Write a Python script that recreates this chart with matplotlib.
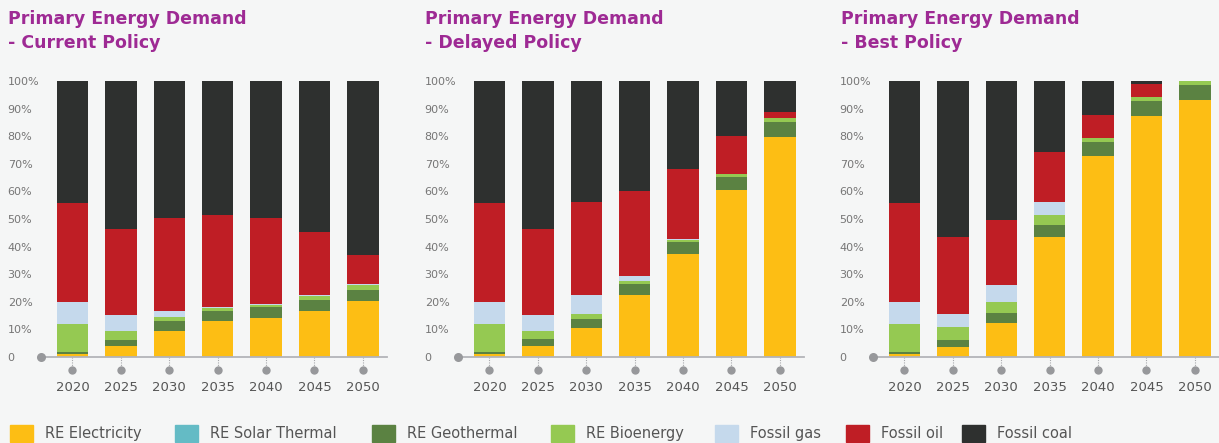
import numpy as np
import matplotlib.pyplot as plt
from matplotlib.patches import Rectangle

years = ['2020', '2025', '2030', '2035', '2040', '2045', '2050']
sources = ['RE Electricity', 'RE Solar Thermal', 'RE Geothermal', 'RE Bioenergy',
           'Fossil gas', 'Fossil oil', 'Fossil coal']
colors = ['#FDBE14', '#64BBC5', '#5B8242', '#95C952', '#C5D9EC', '#BF1E25', '#2E302F']

# shares in % per source (bottom to top)
cur_electricity = [1.1, 4.0, 9.5, 13.1, 14.2, 16.7, 20.4]
cur_solar = [0, 0, 0, 0, 0, 0, 0]
cur_geothermal = [0.7, 2.2, 3.6, 3.4, 4.0, 4.0, 4.0]
cur_bioenergy = [10.2, 3.3, 1.4, 1.3, 0.8, 1.5, 1.8]
cur_gas = [7.8, 5.8, 2.2, 0.2, 0.3, 0.1, 0.3]
cur_oil = [36.0, 31.1, 33.5, 33.6, 30.9, 22.9, 10.6]
cur_coal = [44.2, 53.6, 49.8, 48.4, 49.8, 54.8, 62.9]

del_electricity = [1.1, 4.1, 10.4, 22.5, 37.5, 60.4, 79.6]
del_solar = [0, 0, 0, 0, 0, 0, 0]
del_geothermal = [0.7, 2.4, 3.4, 4.0, 4.0, 4.7, 5.5]
del_bioenergy = [10.2, 3.0, 1.8, 1.1, 0.9, 1.1, 1.4]
del_gas = [7.8, 5.8, 6.9, 1.9, 0.5, 0.0, 0.0]
del_oil = [36.0, 31.2, 33.6, 30.7, 25.2, 14.0, 2.2]
del_coal = [44.2, 53.5, 43.9, 39.8, 31.9, 19.8, 11.3]

best_electricity = [1.1, 3.5, 12.4, 43.6, 73.0, 87.3, 93.1]
best_solar = [0, 0, 0, 0, 0, 0, 0]
best_geothermal = [0.7, 2.7, 3.6, 4.4, 4.8, 5.4, 5.4]
best_bioenergy = [10.2, 4.7, 4.0, 3.6, 1.5, 1.5, 1.5]
best_gas = [7.8, 4.7, 6.2, 4.4, 0.0, 0.0, 0.0]
best_oil = [36.0, 27.9, 23.3, 18.2, 8.3, 4.7, 0.0]
best_coal = [44.2, 56.5, 50.5, 25.8, 12.4, 1.1, 0.0]

titles = ['Primary Energy Demand\n- Current Policy',
          'Primary Energy Demand\n- Delayed Policy',
          'Primary Energy Demand\n- Best Policy']
scenarios = [
    [cur_electricity, cur_solar, cur_geothermal, cur_bioenergy, cur_gas, cur_oil, cur_coal],
    [del_electricity, del_solar, del_geothermal, del_bioenergy, del_gas, del_oil, del_coal],
    [best_electricity, best_solar, best_geothermal, best_bioenergy, best_gas, best_oil, best_coal],
]

bg = '#F5F6F6'
W, H = 1219, 443
fig = plt.figure(figsize=(W / 100, H / 100), dpi=100, facecolor=bg)

panel_left = [41, 458, 873]   # pixels
title_left = [8, 425, 841]
ax_w, ax_bottom, ax_h = 346, 443 - 357, 276

x = np.arange(len(years))
for i, data in enumerate(scenarios):
    ax = fig.add_axes([panel_left[i] / W, ax_bottom / H, ax_w / W, ax_h / H])
    ax.set_facecolor(bg)
    bottom = np.zeros(len(years))
    for vals, c in zip(data, colors):
        vals = np.array(vals, dtype=float)
        ax.bar(x, vals, bottom=bottom, width=0.65, color=c, linewidth=0, zorder=2)
        bottom += vals

    ax.set_xlim(-0.65, 6.5)
    ax.set_ylim(0, 100)
    for s in ['top', 'right', 'left']:
        ax.spines[s].set_visible(False)
    ax.spines['bottom'].set_color('#B3B4B8')
    ax.spines['bottom'].set_linewidth(1.3)

    ax.set_yticks(np.arange(0, 101, 10))
    ax.set_yticklabels(['0'] + [f'{v}%' for v in range(10, 101, 10)])
    ax.tick_params(axis='y', length=0, pad=24, labelsize=8, labelcolor='#767676')
    for lab in ax.get_yticklabels():
        lab.set_horizontalalignment('left')

    ax.set_xticks(x)
    ax.set_xticklabels([])
    ax.tick_params(axis='x', length=0)
    tr = ax.get_xaxis_transform()
    for xi, yr in zip(x, years):
        ax.plot([xi, xi], [0, -0.047], transform=tr, color='#A8A9AD', lw=0.8,
                ls=(0, (1, 1.2)), clip_on=False, zorder=1)
        ax.plot([xi], [-0.047], transform=tr, marker='o', ms=6, color='#97989B',
                mec='none', clip_on=False)
        ax.text(xi, -0.112, yr, transform=tr, ha='center', va='center',
                fontsize=9.5, color='#555555')
    ax.plot([-0.65], [0], marker='o', ms=6.5, color='#97989B', mec='none',
            clip_on=False, zorder=3)

    fig.text(title_left[i] / W, 1 - 10 / H, titles[i], ha='left', va='top',
             fontsize=12.5, fontweight='bold', color='#9E2A94', linespacing=1.45)

# legend along the bottom
leg_x = [10, 175, 372, 551, 715, 846, 962]
for lx, name, c in zip(leg_x, sources, colors):
    fig.patches.append(Rectangle((lx / W, 1 / H), 23 / W, 17 / H, color=c,
                                 transform=fig.transFigure, figure=fig))
    fig.text((lx + 35) / W, 9.5 / H, name, ha='left', va='center',
             fontsize=10.5, color='#555555')

fig.savefig('out.png', dpi=100, facecolor=bg)
